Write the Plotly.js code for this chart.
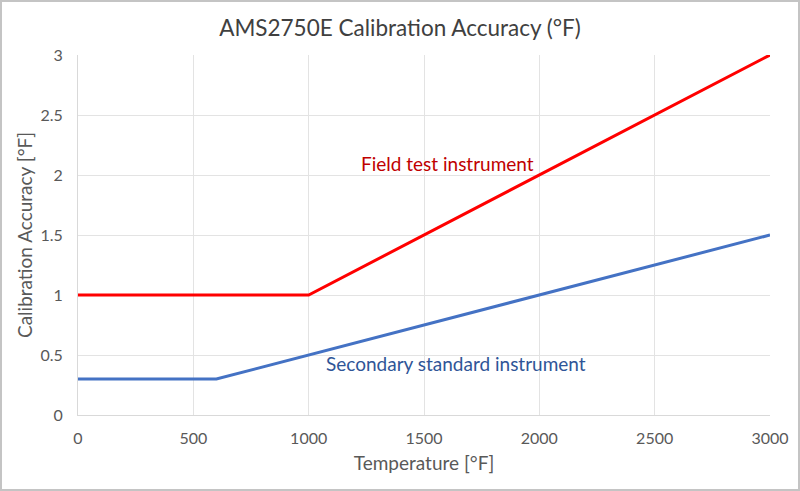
<!DOCTYPE html>
<html><head><meta charset="utf-8">
<script src="https://cdn.plot.ly/plotly-3.0.1.min.js"></script>
<style>html,body{margin:0;padding:0;background:#fff}#wrap{position:relative;width:800px;height:491px}#frame{position:absolute;left:0;top:0;width:800px;height:491px;box-sizing:border-box;border:2px solid #c4c4c4;pointer-events:none}</style>
</head><body><div id="wrap"><div id="chart" style="width:800px;height:491px"></div><div id="frame"></div></div>
<script>
const fieldX = [0, 1000, 3000];
const fieldY = [1, 1, 3];
const secX = [0, 600, 3000];
const secY = [0.3, 0.3, 1.5];
const xTicks = [0, 500, 1000, 1500, 2000, 2500, 3000];
const yTicks = [0, 0.5, 1, 1.5, 2, 2.5, 3];
const yTickText = ['0', '0.5', '1', '1.5', '2', '2.5', '3'];
const labels = ['Field test instrument', 'Secondary standard instrument'];

const font = 'Lato, Open Sans, sans-serif';
const data = [
  {x: fieldX, y: fieldY, mode: 'lines', line: {color: '#ff0000', width: 3}, name: labels[0], hoverinfo: 'none'},
  {x: secX, y: secY, mode: 'lines', line: {color: '#4472c4', width: 3}, name: labels[1], hoverinfo: 'none'}
];
const layout = {
  width: 800, height: 491,
  margin: {l: 78, r: 30, t: 55, b: 76},
  showlegend: false,
  paper_bgcolor: '#fff', plot_bgcolor: '#fff',
  title: {text: 'AMS2750E Calibration Accuracy (°F)', x: 0.5, xanchor: 'center', y: 0.943, yanchor: 'middle', font: {family: font, size: 22.5, color: '#404040'}},
  xaxis: {range: [0, 3000], tickvals: xTicks, ticktext: xTicks.map(String), showgrid: true, gridcolor: '#e3e3e3', gridwidth: 1,
    zeroline: false, showline: true, linecolor: '#d9d9d9', linewidth: 1, ticks: '', ticklabelstandoff: 9,
    tickfont: {family: font, size: 16, color: '#595959'},
    title: {text: 'Temperature [°F]', font: {family: font, size: 19, color: '#595959'}, standoff: 10}},
  yaxis: {range: [0, 3], tickvals: yTicks, ticktext: yTickText, showgrid: true, gridcolor: '#e3e3e3', gridwidth: 1,
    zeroline: false, showline: true, linecolor: '#d9d9d9', linewidth: 1, ticks: '', ticklabelstandoff: 11,
    tickfont: {family: font, size: 16, color: '#595959'},
    title: {text: 'Calibration Accuracy [°F]', font: {family: font, size: 19, color: '#595959'}, standoff: 2}},
  annotations: [
    {x: 1600, y: 2.1, xref: 'x', yref: 'y', text: labels[0], showarrow: false, font: {family: font, size: 19, color: '#c00000'}},
    {x: 1639, y: 0.433, xref: 'x', yref: 'y', text: labels[1], showarrow: false, font: {family: font, size: 19, color: '#2f5597'}}
  ]
};
Plotly.newPlot('chart', data, layout, {staticPlot: true});
</script></body></html>
